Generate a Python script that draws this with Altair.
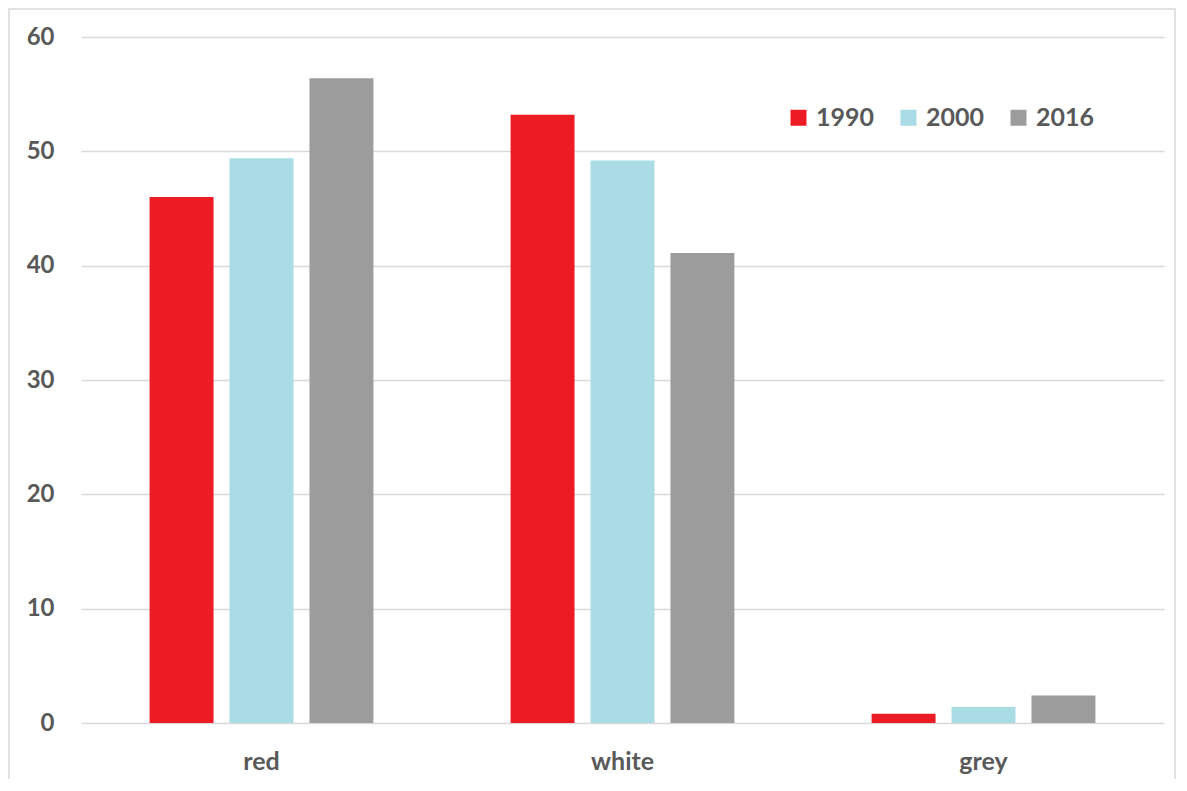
import altair as alt
import pandas as pd

categories = ["red", "white", "grey"]
years = ["1990", "2000", "2016"]
v1990 = [46.0, 53.2, 0.8]
v2000 = [49.4, 49.2, 1.4]
v2016 = [56.4, 41.1, 2.4]

rows = []
for i, c in enumerate(categories):
    for y, vals in zip(years, [v1990, v2000, v2016]):
        rows.append({"category": c, "year": y, "value": vals[i]})
df = pd.DataFrame(rows)

FONT = "Lato"
TXT = "#595959"

bars = alt.Chart(df).mark_bar().encode(
    x=alt.X("category:N", sort=categories, title=None,
            scale=alt.Scale(paddingInner=0.38, paddingOuter=0.19),
            axis=alt.Axis(labelAngle=0, labelFont=FONT, labelFontSize=25,
                          labelFontWeight="bold", labelColor=TXT,
                          labelPadding=26, ticks=False, domain=False, grid=False)),
    xOffset=alt.XOffset("year:N", sort=years,
                        scale=alt.Scale(paddingInner=0.2, paddingOuter=0)),
    y=alt.Y("value:Q", title=None,
            scale=alt.Scale(domain=[0, 60], nice=False),
            axis=alt.Axis(values=[0, 10, 20, 30, 40, 50, 60], labelFont=FONT,
                          labelFontSize=24, labelFontWeight="bold", labelColor=TXT,
                          labelPadding=27, ticks=False, domain=False,
                          gridColor="#D9D9D9", gridWidth=1.5)),
    color=alt.Color("year:N", sort=years,
                    scale=alt.Scale(domain=years, range=["#ED1C24", "#A9DCE5", "#9C9C9C"]),
                    legend=alt.Legend(title=None, orient="none", legendX=705, legendY=68,
                                      direction="horizontal", symbolType="square",
                                      symbolSize=256, symbolStrokeWidth=0,
                                      labelFont=FONT, labelFontSize=25,
                                      labelFontWeight="bold", labelColor=TXT,
                                      labelOffset=5, columnPadding=21)),
)

frame = alt.Chart(pd.DataFrame({"k": [0]})).mark_rect(
    fill=None, stroke="#D9D9D9", strokeWidth=1.5
).encode(
    x=alt.value(-72), x2=alt.value(1094), y=alt.value(-28), y2=alt.value(780)
)

chart = alt.layer(frame, bars).properties(
    width=1083, height=686,
    background="white",
    autosize=alt.AutoSizeParams(type="none"),
    padding={"left": 73, "top": 29, "right": 14, "bottom": 56},
).configure_view(stroke=None)

chart.save("out.html", embed_options={"renderer": "svg", "actions": False})
